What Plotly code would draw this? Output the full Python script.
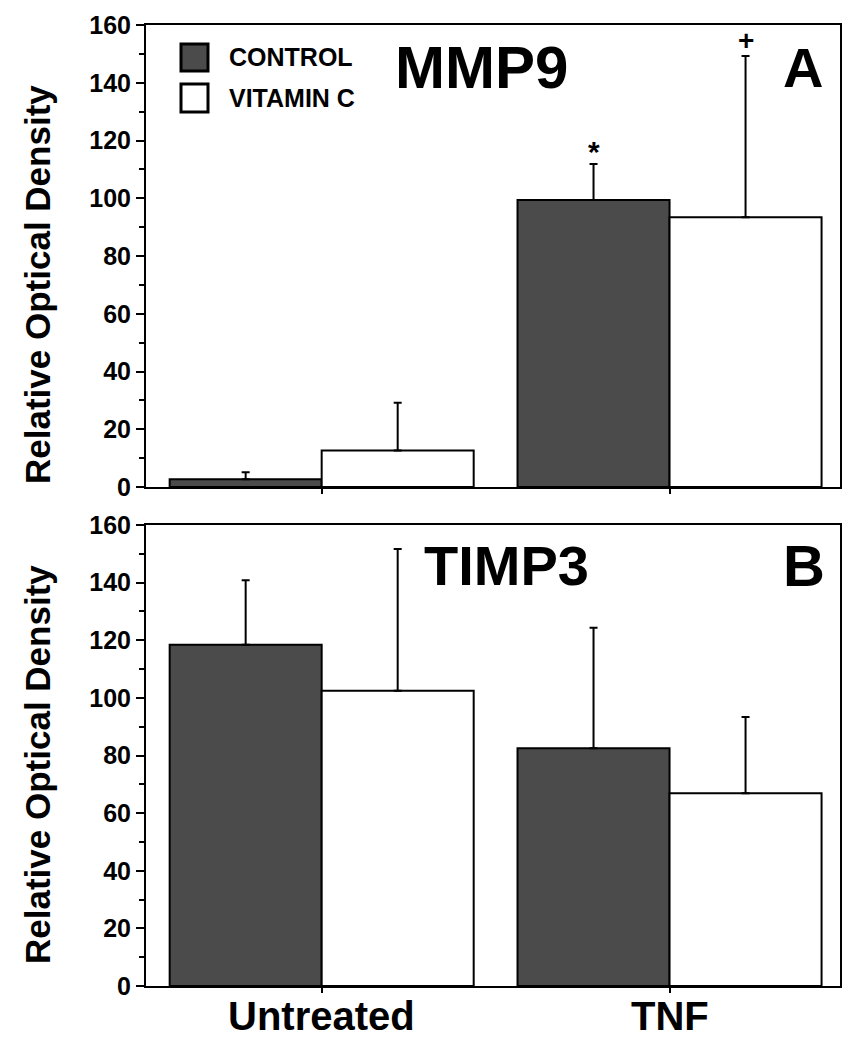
import plotly.graph_objects as go
from plotly.subplots import make_subplots

categories = ["Untreated", "TNF"]
series_names = ["CONTROL", "VITAMIN C"]

# Panel A: MMP9
mmp9_control = [2.7, 99.4]
mmp9_control_err = [2.4, 12.5]
mmp9_vitc = [12.6, 93.4]
mmp9_vitc_err = [16.6, 55.9]

# Panel B: TIMP3
timp3_control = [118.4, 82.5]
timp3_control_err = [22.4, 41.8]
timp3_vitc = [102.5, 66.9]
timp3_vitc_err = [49.2, 26.5]

y_ticks = [0, 20, 40, 60, 80, 100, 120, 140, 160]

FONT = "Arial, Liberation Sans, sans-serif"
DARK = "#4b4b4b"

fig = make_subplots(rows=2, cols=1, shared_xaxes=False, vertical_spacing=0.04)


def add_bars(row, ctrl, ctrl_err, vitc, vitc_err):
    fig.add_trace(go.Bar(
        x=categories, y=ctrl, name=series_names[0],
        marker=dict(color=DARK, line=dict(color="black", width=2)),
        error_y=dict(type="data", array=ctrl_err, symmetric=False,
                     arrayminus=[0] * len(ctrl_err), color="black",
                     thickness=2, width=4),
        showlegend=False), row=row, col=1)
    fig.add_trace(go.Bar(
        x=categories, y=vitc, name=series_names[1],
        marker=dict(color="white", line=dict(color="black", width=2)),
        error_y=dict(type="data", array=vitc_err, symmetric=False,
                     arrayminus=[0] * len(vitc_err), color="black",
                     thickness=2, width=4),
        showlegend=False), row=row, col=1)


add_bars(1, mmp9_control, mmp9_control_err, mmp9_vitc, mmp9_vitc_err)
add_bars(2, timp3_control, timp3_control_err, timp3_vitc, timp3_vitc_err)

# The page body adds an 8px offset; size the figure so the plot lands
# where the reference has it (page pixels).
OFF = 8
W, H = 847, 1034
ML = 146 - OFF
MR = W - (840 - OFF)
MT = 25 - OFF
MB = H - (986 - OFF)
PH = H - MT - MB

fig.update_layout(
    width=W, height=H,
    margin=dict(l=ML, r=MR, t=MT, b=MB, autoexpand=False),
    paper_bgcolor="white", plot_bgcolor="white",
    barmode="group", bargap=0.126, bargroupgap=0,
    font=dict(family=FONT, color="black"),
)

ydom_top = [(986 - 487) / PH, 1.0]
ydom_bot = [0.0, (986 - 525) / PH]

for i, dom in ((1, ydom_top), (2, ydom_bot)):
    yname = "yaxis" if i == 1 else "yaxis2"
    fig.layout[yname].update(
        domain=dom, range=[0, 160], tickvals=y_ticks,
        ticks="outside", ticklen=8, tickwidth=2, tickcolor="black",
        minor=dict(dtick=10, tick0=0, ticks="outside", ticklen=5, tickwidth=2, tickcolor="black"),
        showline=True, linewidth=2, linecolor="black", mirror=True,
        showgrid=False, zeroline=False, automargin=False,
        tickfont=dict(family=FONT, size=25, weight="bold"),
        fixedrange=True,
    )
    xname = "xaxis" if i == 1 else "xaxis2"
    fig.layout[xname].update(
        range=[-0.505, 1.49],
        ticks="outside", ticklen=5, tickwidth=2, tickcolor="black",
        showline=True, linewidth=2, linecolor="black", mirror=True,
        showgrid=False, zeroline=False, automargin=False,
        showticklabels=False,
    )


def px_x(px):
    return (px - OFF - ML) / (W - ML - MR)


def px_y(py):
    return (H - MB - (py - OFF)) / PH


annotations = []
# Y axis titles
for cy in (285, 765):
    annotations.append(dict(
        text="Relative Optical Density", xref="paper", yref="paper",
        x=px_x(37), y=px_y(cy), xanchor="center", yanchor="middle",
        textangle=-90, showarrow=False,
        font=dict(family=FONT, size=35, weight="bold")))

# Category labels under the lower panel
for idx, cat in enumerate(categories):
    annotations.append(dict(
        text=cat, xref="x2", yref="paper", x=idx, y=px_y(1016),
        xanchor="center", yanchor="middle", showarrow=False,
        font=dict(family=FONT, size=40, weight="bold")))

# Panel titles and letters
annotations += [
    dict(text="MMP9", xref="paper", yref="paper", x=px_x(481), y=px_y(68),
         xanchor="center", yanchor="middle", showarrow=False,
         font=dict(family=FONT, size=60, weight="bold")),
    dict(text="A", xref="paper", yref="paper", x=px_x(803), y=px_y(68),
         xanchor="center", yanchor="middle", showarrow=False,
         font=dict(family=FONT, size=56, weight="bold")),
    dict(text="TIMP3", xref="paper", yref="paper", x=px_x(506), y=px_y(566),
         xanchor="center", yanchor="middle", showarrow=False,
         font=dict(family=FONT, size=56, weight="bold")),
    dict(text="B", xref="paper", yref="paper", x=px_x(804), y=px_y(566),
         xanchor="center", yanchor="middle", showarrow=False,
         font=dict(family=FONT, size=58, weight="bold")),
]

# Significance markers above error bars (panel A, TNF)
half_bar = (1 - 0.126) / 4
annotations += [
    dict(text="*", xref="x", yref="y", x=1 - half_bar,
         y=mmp9_control[1] + mmp9_control_err[1],
         xanchor="center", yanchor="bottom", yshift=-6, showarrow=False,
         font=dict(family=FONT, size=30, weight="bold")),
    dict(text="+", xref="x", yref="y", x=1 + half_bar,
         y=mmp9_vitc[1] + mmp9_vitc_err[1],
         xanchor="center", yanchor="bottom", yshift=-2, showarrow=False,
         font=dict(family=FONT, size=28, weight="bold")),
]

# Legend text
annotations += [
    dict(text=series_names[0], xref="paper", yref="paper", x=px_x(227), y=px_y(57),
         xanchor="left", yanchor="middle", showarrow=False,
         font=dict(family=FONT, size=25, weight="bold")),
    dict(text=series_names[1], xref="paper", yref="paper", x=px_x(227), y=px_y(98),
         xanchor="left", yanchor="middle", showarrow=False,
         font=dict(family=FONT, size=25, weight="bold")),
]

shapes = [
    dict(type="rect", xref="paper", yref="paper",
         x0=px_x(181), x1=px_x(208), y0=px_y(71), y1=px_y(44),
         fillcolor=DARK, line=dict(color="black", width=3)),
    dict(type="rect", xref="paper", yref="paper",
         x0=px_x(181), x1=px_x(208), y0=px_y(112), y1=px_y(84),
         fillcolor="white", line=dict(color="black", width=3)),
]

fig.update_layout(annotations=annotations, shapes=shapes)

fig.write_html("out.html")
